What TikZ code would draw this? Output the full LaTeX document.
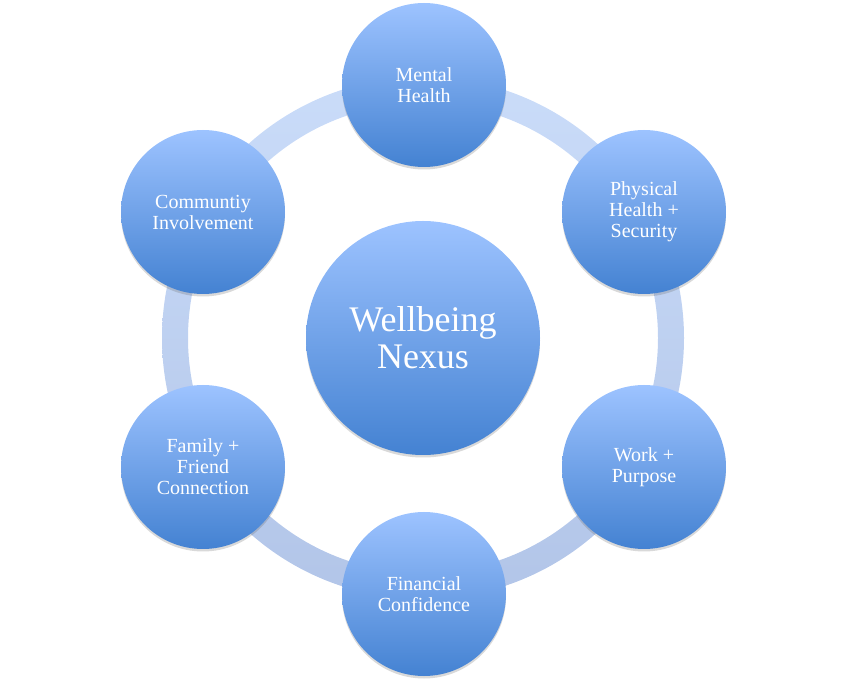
\documentclass[tikz,border=0pt]{standalone}
\usepackage{fontspec}
\setmainfont{Liberation Serif}
\usetikzlibrary{shadows}
\definecolor{circtop}{HTML}{9DC3FF}
\definecolor{circbot}{HTML}{4482D2}
\definecolor{ringtop}{HTML}{CADCF9}
\definecolor{ringbot}{HTML}{B2C5E8}
\begin{document}
\begin{tikzpicture}[x=1pt,y=-1pt,
  bubble/.style={circle, minimum size=164pt, inner sep=0pt, align=center,
    top color=circtop, bottom color=circbot, draw=none, text=white,
    font=\fontsize{20}{21}\selectfont,
    drop shadow={shadow xshift=0pt, shadow yshift=-2.5pt, opacity=0.25, fill=black!60}},
  hub/.style={bubble, minimum size=234pt, font=\fontsize{36}{37}\selectfont}]
\useasboundingbox (0,0) rectangle (847,684);
\coordinate (c) at (423,338);
\shade[top color=ringtop, bottom color=ringbot, even odd rule]
  (c) circle[radius=261] (c) circle[radius=235];
\node[hub] (nexus) at (c) {Wellbeing\\Nexus};
\node[bubble] (mental) at (424,85) {Mental\\Health};
\node[bubble] (physical) at (644,212) {Physical\\Health +\\Security};
\node[bubble] (work) at (644,467) {Work +\\Purpose};
\node[bubble] (financial) at (424,594) {Financial\\Confidence};
\node[bubble] (family) at (203,467) {Family +\\Friend\\Connection};
\node[bubble] (community) at (203,212) {Communtiy\\Involvement};
\end{tikzpicture}
\end{document}
